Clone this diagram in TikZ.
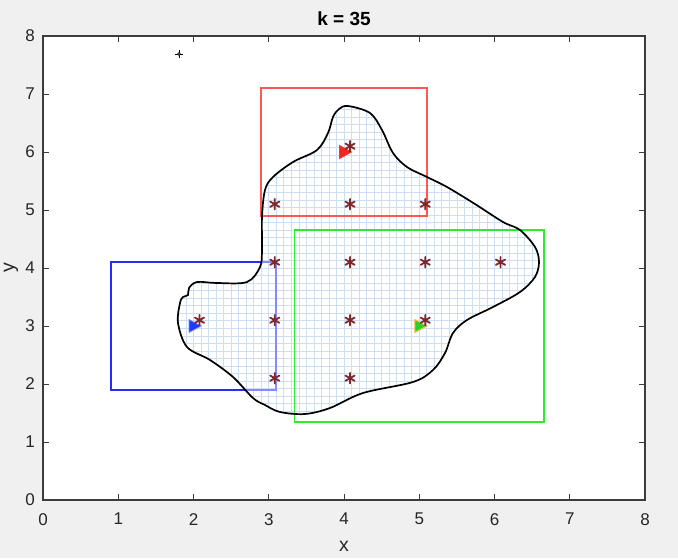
\documentclass[tikz,border=0pt]{standalone}
\usepackage{fontspec}
\setmainfont{Liberation Sans}
\definecolor{figbg}{RGB}{240,240,240}
\definecolor{axcol}{RGB}{60,60,60}
\definecolor{labcol}{RGB}{38,38,38}
\definecolor{gridcol}{RGB}{205,222,240}
\definecolor{starcol}{RGB}{125,40,45}
\definecolor{rectred}{RGB}{255,85,85}
\definecolor{rectblue}{RGB}{40,40,255}
\definecolor{rectgreen}{RGB}{45,235,45}
\definecolor{trired}{RGB}{240,40,30}
\definecolor{triblue}{RGB}{30,60,255}
\definecolor{trigreen}{RGB}{40,210,40}
\definecolor{triorange}{RGB}{255,185,60}
\tikzset{
  axline/.style={draw=axcol,line width=1.1pt},
  tickline/.style={draw=axcol,line width=0.9pt},
  ticklab/.style={font=\fontsize{17}{17}\selectfont,text=labcol,inner sep=0pt},
  axlab/.style={font=\fontsize{19.5}{19.5}\selectfont,text=labcol,inner sep=0pt},
  gridline/.style={draw=gridcol,line width=0.7pt},
  rectline/.style={line width=1.6pt},
  blobline/.style={draw=black,line width=1.7pt},
  astk/.pic={\draw[starcol,line width=1.8pt,line cap=round]
     (0pt,-5.3pt)--(0pt,5.3pt) (-4.6pt,-2.65pt)--(4.6pt,2.65pt) (-4.6pt,2.65pt)--(4.6pt,-2.65pt);},
}
\begin{document}
\begin{tikzpicture}[x=1pt,y=-1pt]
\useasboundingbox (0,0) rectangle (678,558);
\fill[figbg] (0,0) rectangle (678,558);
\fill[white] (43,36) rectangle (645,500);

\begin{scope}[shift={(43,500)},x=75.25pt,y=58pt]
  % blue rectangle (under the patch)
  \draw[rectline,rectblue] (0.9,1.9) rectangle (3.1,4.1);
\end{scope}

% patch with mesh, clipped to blob
\begin{scope}
  \clip plot[smooth cycle,tension=0.55] coordinates {
   (348,106) (370,113) (382,130) (393,153) (407,167) (427,177) (447,187)
   (475,204) (503,222) (520,230) (535,247) (539,262) (535,277) (520,292)
   (493,307) (467,320) (453,333) (445,353) (433,370) (413,382) (363,393)
   (330,408) (305,414) (280,412) (265,405) (253,398) (233,377) (210,360)
   (187,347) (178,323) (180,303) (183,297) (188,295) (189,288) (197,282)
   (217,283) (247,282) (260,267) (262,250) (262,217) (265,190) (273,177)
   (293,162) (317,150) (328,133) (333,117) (339,109)};
  \fill[white,fill opacity=0.4] (43,36) rectangle (645,500);
  \begin{scope}[shift={(43,500)},x=75.25pt,y=58pt]
    \foreach \i in {0,...,60} \draw[gridline] ({0.8+0.1*\i},1.2) -- ({0.8+0.1*\i},7);
    \foreach \j in {0,...,45} \draw[gridline] (0.8,{1.4+0.13*\j}) -- (6.8,{1.4+0.13*\j});
    % blue rectangle seen through the patch
    \draw[rectline,rectblue!55!white] (0.9,1.9) rectangle (3.1,4.1);
  \end{scope}
\end{scope}

\begin{scope}[shift={(43,500)},x=75.25pt,y=58pt]
  \draw[rectline,rectred] (2.9,4.9) rectangle (5.1,7.1);
  \draw[rectline,rectgreen] (3.34,1.34) rectangle (6.66,4.66);
\end{scope}

% blob outline
\draw[blobline] plot[smooth cycle,tension=0.55] coordinates {
   (348,106) (370,113) (382,130) (393,153) (407,167) (427,177) (447,187)
   (475,204) (503,222) (520,230) (535,247) (539,262) (535,277) (520,292)
   (493,307) (467,320) (453,333) (445,353) (433,370) (413,382) (363,393)
   (330,408) (305,414) (280,412) (265,405) (253,398) (233,377) (210,360)
   (187,347) (178,323) (180,303) (183,297) (188,295) (189,288) (197,282)
   (217,283) (247,282) (260,267) (262,250) (262,217) (265,190) (273,177)
   (293,162) (317,150) (328,133) (333,117) (339,109)};

\begin{scope}[shift={(43,500)},x=75.25pt,y=58pt]
  % triangles
  \filldraw[fill=trired,draw=trired!80!orange,line width=0.8pt]
     (4,6) ++(-4.5pt,6.5pt) -- ++(12pt,-6.5pt) -- ++(-12pt,-6.5pt) -- cycle;
  \filldraw[fill=triblue,draw=triblue!60!white,line width=0.8pt]
     (2,3) ++(-4.5pt,6.5pt) -- ++(12pt,-6.5pt) -- ++(-12pt,-6.5pt) -- cycle;
  \filldraw[fill=trigreen,draw=triorange,line width=1pt]
     (5,3) ++(-4.5pt,6.5pt) -- ++(12pt,-6.5pt) -- ++(-12pt,-6.5pt) -- cycle;
  % stars
  \foreach \p in {(4.08,6.1),(3.08,5.1),(4.08,5.1),(5.08,5.1),(3.08,4.1),(4.08,4.1),
                  (5.08,4.1),(6.08,4.1),(2.08,3.1),(3.08,3.1),(4.08,3.1),(5.08,3.1),
                  (3.08,2.1),(4.08,2.1)}
     \pic at \p {astk};
  % axes box and ticks
  \draw[axline] (0,0) rectangle (8,8);
  \foreach \t in {1,...,7} {
    \draw[tickline] (\t,0) -- ++(0pt,6pt);
    \draw[tickline] (\t,8) -- ++(0pt,-6pt);
    \draw[tickline] (0,\t) -- ++(6pt,0pt);
    \draw[tickline] (8,\t) -- ++(-6pt,0pt);
  }
  \foreach \t in {0,...,8} {
    \node[ticklab,anchor=north] (xt\t) at ([yshift=-13pt]\t,0) {\t};
    \node[ticklab,anchor=east] (yt\t) at ([xshift=-8pt]0,\t) {\t};
  }
\end{scope}

% marker at top-left
\draw[black,line width=0.8pt] (175,54) -- (183,54) (179,50) -- (179,58);
\draw[black,line width=0.6pt,fill=white] (179,54) circle (1.4);

% labels
\node[axlab] (xlab) at (344,546) {x};
\node[axlab,rotate=90] (ylab) at (11,268) {y};
\node[font=\bfseries\fontsize{19}{19}\selectfont,text=black,inner sep=0pt] (title) at (344,19) {k = 35};
\end{tikzpicture}
\end{document}
